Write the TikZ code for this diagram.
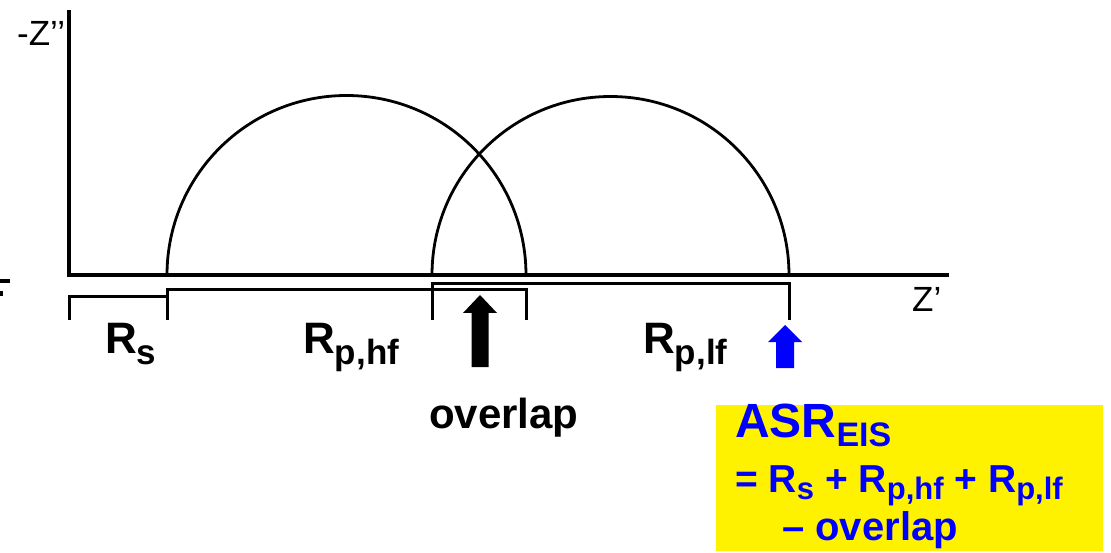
\documentclass[tikz,border=0pt]{standalone}
\usepackage{fontspec}
\setmainfont{Liberation Sans}
\newcommand{\Rsub}[4]{{\fontsize{#1}{#1}\selectfont R\raisebox{-#3pt}{\fontsize{#2}{#2}\selectfont #4}}}
\begin{document}
\begin{tikzpicture}[x=1pt,y=-1pt,
  axisline/.style={line width=3.2pt},
  curve/.style={line width=2.8pt},
  brack/.style={line width=3pt},
  lab/.style={inner sep=0pt, anchor=base west, font=\bfseries},
  axlab/.style={inner sep=0pt, anchor=base west, font=\fontsize{35}{35}\selectfont}
]
\useasboundingbox (0,0) rectangle (1111,553);
% cut-off glyph fragment at left edge
\fill (0,279) rectangle (10,283);
\fill (0,291) rectangle (3,296);
% axes
\coordinate (O) at (69,275);
\coordinate (ytop) at (69,10);
\coordinate (xend) at (949,275);
\draw[axisline] (ytop) -- (O) -- (xend);
\node[axlab] (ylab) at (17,46) {-Z’’};
\node[axlab] (xlab) at (912,312) {Z’};
% semicircles
\coordinate (a1) at (167,275);
\coordinate (b1) at (526,275);
\coordinate (a2) at (432,275);
\coordinate (b2) at (789,275);
\draw[curve] (a1) arc[start angle=180, end angle=360, radius=179.5];
\draw[curve] (a2) arc[start angle=180, end angle=360, radius=178.5];
% brackets
\draw[brack] (69,320) -- (69,297) -- (167,297) -- (167,320);
\draw[brack] (167,320) -- (167,290) -- (526,290) -- (526,320);
\draw[brack] (432,320) -- (432,284) -- (789,284) -- (789,320);
% labels
\node[lab] (rs) at (105,353) {\Rsub{44}{35}{11}{s}};
\node[lab] (rphf) at (303,353) {\Rsub{44}{35}{11}{p,hf}};
\node[lab] (rplf) at (643,353) {\Rsub{44}{35}{11}{p,lf}};
\node[lab, font=\bfseries\fontsize{42}{42}\selectfont] (ovl) at (429,428) {overlap};
% arrows
\fill[black] (480,295) -- (497,313) -- (488.5,313) -- (488.5,367) -- (471.5,367) -- (471.5,313) -- (463,313) -- cycle;
\fill[blue] (785,325) -- (802,342) -- (794,342) -- (794,368) -- (776,368) -- (776,342) -- (768,342) -- cycle;
% yellow box
\fill[yellow] (716,405) rectangle (1103,551);
\node[lab, text=blue] (asr) at (735,437) {{\fontsize{48}{48}\selectfont ASR\raisebox{-9pt}{\fontsize{34}{34}\selectfont EIS}}};
\node[lab, text=blue] (eq) at (735,492) {{\fontsize{39}{39}\selectfont = \Rsub{39}{31}{7}{s} + \Rsub{39}{31}{7}{p,hf} + \Rsub{39}{31}{7}{p,lf}}};
\node[lab, text=blue] (minus) at (782,540) {{\fontsize{40}{40}\selectfont – overlap}};
\end{tikzpicture}
\end{document}
